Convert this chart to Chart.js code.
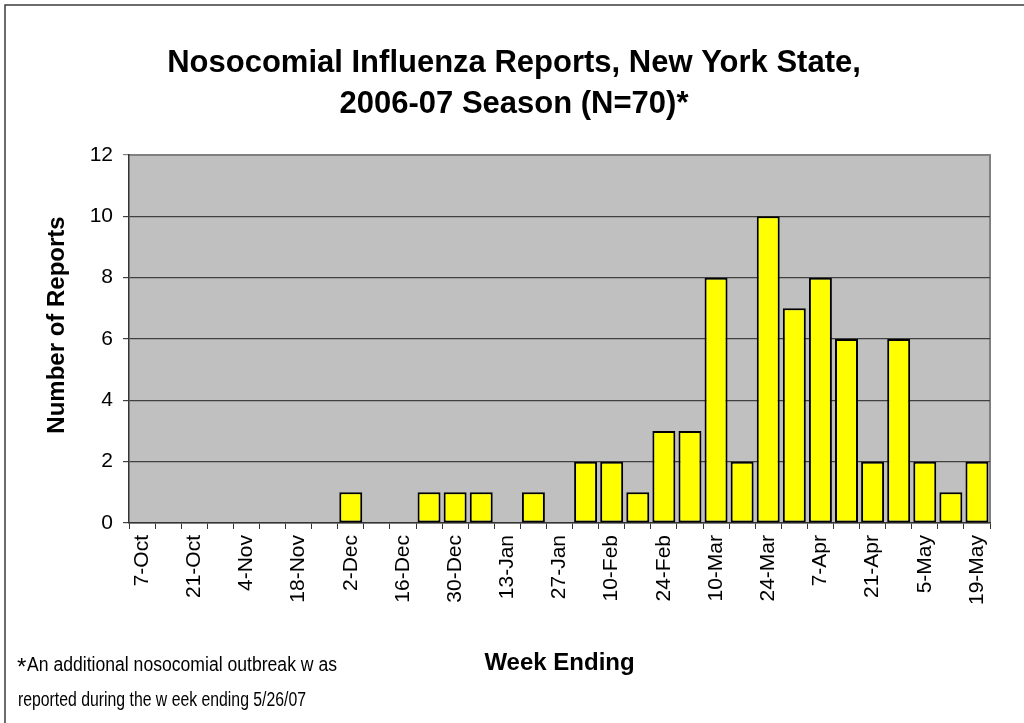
<!DOCTYPE html>
<html>
<head>
<meta charset="utf-8">
<title>Nosocomial Influenza Reports, New York State</title>
<script src="https://cdn.jsdelivr.net/npm/chart.js@4.4.1/dist/chart.umd.min.js"></script>
<style>
  html, body { margin: 0; padding: 0; background: #fff; }
  #wrap { width: 1024px; height: 723px; }
</style>
</head>
<body>
<div id="wrap"><canvas id="flu-chart" width="1024" height="723"></canvas></div>
<script>
// week ending dates, 2006-07 season
const weeks = [
  '7-Oct', '14-Oct', '21-Oct', '28-Oct', '4-Nov', '11-Nov', '18-Nov', '25-Nov',
  '2-Dec', '9-Dec', '16-Dec', '23-Dec', '30-Dec', '6-Jan', '13-Jan', '20-Jan',
  '27-Jan', '3-Feb', '10-Feb', '17-Feb', '24-Feb', '3-Mar', '10-Mar', '17-Mar',
  '24-Mar', '31-Mar', '7-Apr', '14-Apr', '21-Apr', '28-Apr', '5-May', '12-May', '19-May'
];
const reports = [
  0, 0, 0, 0, 0, 0, 0, 0,
  1, 0, 0, 1, 1, 1, 0, 1,
  0, 2, 2, 1, 3, 3, 8, 2,
  10, 7, 8, 6, 2, 6, 2, 1, 2
];
const yTicks = [0, 2, 4, 6, 8, 10, 12];

const titleLines = ['Nosocomial Influenza Reports, New York State,', '2006-07 Season (N=70)*'];
const yTitle = 'Number of Reports';
const xTitle = 'Week Ending';
const footnote = ['An additional nosocomial outbreak w as', 'reported during the w eek ending 5/26/07'];

const FONT = '"Liberation Sans", Arial, sans-serif';

const frame = {
  id: 'frame',
  beforeDraw(chart) {
    const ctx = chart.ctx;
    const a = chart.chartArea;
    ctx.save();
    ctx.fillStyle = '#fff';
    ctx.fillRect(0, 0, chart.width, chart.height);
    // outer border, right and bottom run off the picture
    ctx.strokeStyle = '#3c3c3c';
    ctx.lineWidth = 1.5;
    ctx.strokeRect(5, 5, chart.width + 20, chart.height + 20);
    // plot area
    ctx.fillStyle = '#c0c0c0';
    ctx.fillRect(a.left, a.top, a.right - a.left, a.bottom - a.top);
    ctx.strokeStyle = '#808080';
    ctx.lineWidth = 2;
    ctx.beginPath();
    ctx.moveTo(a.left, a.top);
    ctx.lineTo(a.right, a.top);
    ctx.lineTo(a.right, a.bottom);
    ctx.stroke();
    ctx.restore();
  },
  afterDraw(chart) {
    const ctx = chart.ctx;
    const a = chart.chartArea;
    ctx.save();
    ctx.fillStyle = '#000';
    ctx.textAlign = 'center';
    ctx.textBaseline = 'alphabetic';
    ctx.font = 'bold 31px ' + FONT;
    ctx.fillText(titleLines[0], 514, 72);
    ctx.fillText(titleLines[1], 514, 113);

    ctx.font = 'bold 24px ' + FONT;
    ctx.textBaseline = 'middle';
    ctx.fillText(xTitle, (a.left + a.right) / 2, 663);

    ctx.save();
    ctx.translate(57, 325);
    ctx.rotate(-Math.PI / 2);
    ctx.fillText(yTitle, 0, 0);
    ctx.restore();

    // footnote
    ctx.textAlign = 'left';
    ctx.textBaseline = 'alphabetic';
    ctx.font = '24px ' + FONT;
    ctx.fillText('*', 17, 675);
    ctx.font = '20px ' + FONT;
    ctx.fillText(footnote[0], 27, 671, 310);
    ctx.fillText(footnote[1], 18, 706, 288);
    ctx.restore();
  }
};

new Chart(document.getElementById('flu-chart'), {
  type: 'bar',
  data: {
    labels: weeks,
    datasets: [{
      data: reports,
      backgroundColor: '#ffff00',
      borderColor: '#000',
      borderWidth: ctx => (ctx.raw > 0 ? 2 : 0),
      borderSkipped: false,
      barPercentage: 0.88,
      categoryPercentage: 1
    }]
  },
  options: {
    responsive: false,
    animation: false,
    layout: { padding: { top: 155, right: 34, left: 0, bottom: 0 } },
    plugins: {
      legend: { display: false },
      tooltip: { enabled: false }
    },
    scales: {
      x: {
        afterFit(scale) { scale.height = 200; },
        grid: {
          offset: true,
          drawOnChartArea: false,
          drawTicks: true,
          tickLength: 6,
          color: '#333'
        },
        border: { color: '#333', width: 1.5 },
        ticks: {
          autoSkip: false,
          maxRotation: 90,
          minRotation: 90,
          padding: 6,
          color: '#000',
          font: { family: FONT, size: 21 },
          callback: (v, i) => (i % 2 === 0 ? weeks[i] : '')
        }
      },
      y: {
        min: 0,
        max: 12,
        afterFit(scale) { scale.width = 129; },
        afterBuildTicks(scale) { scale.ticks = yTicks.map(v => ({ value: v })); },
        grid: {
          color: c => (c.tick && c.tick.value === 12 ? '#808080' : '#404040'),
          lineWidth: 1.2,
          tickLength: 6
        },
        border: { color: '#333', width: 1.5 },
        ticks: {
          padding: 10,
          color: '#000',
          font: { family: FONT, size: 21 }
        }
      }
    }
  },
  plugins: [frame]
});
</script>
</body>
</html>
